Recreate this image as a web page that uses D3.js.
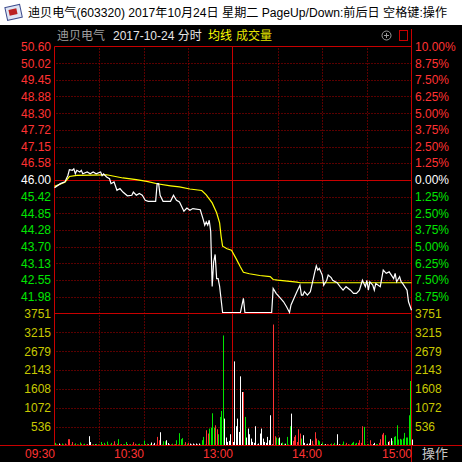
<!DOCTYPE html>
<meta charset="utf-8">
<title>迪贝电气 分时</title>
<style>
body { margin: 0; background: #000; }
svg { display: block; }
text { font: 12px "Liberation Sans", "Noto Sans CJK SC", sans-serif; }
</style>
<svg width="462" height="462"></svg>
<script src="https://cdn.jsdelivr.net/npm/d3@7/dist/d3.min.js"></script>
<script>

var prevClose = 46.00;

var priceLabels = ["50.60", "50.02", "49.45", "48.88", "48.30", "47.72", "47.15", "46.58", "46.00",
                   "45.42", "44.85", "44.28", "43.70", "43.13", "42.55", "41.98"];
var pctLabels = ["10.00%", "8.75%", "7.50%", "6.25%", "5.00%", "3.75%", "2.50%", "1.25%", "0.00%",
                 "1.25%", "2.50%", "3.75%", "5.00%", "6.25%", "7.50%", "8.75%"];
var volTicks = [3751, 3215, 2679, 2143, 1608, 1072, 536];
var timeLabels = ["09:30", "10:30", "13:00", "14:00", "15:00"];
var timeIdx = [0, 60, 120, 180, 240];

// minute index (0 = 09:30, 120 = 11:30/13:00, 240 = 15:00) and price
var priceIdx = [0, 4, 7, 9, 10, 12, 13, 14, 15, 17, 18, 19, 22, 24, 26, 28, 31, 32, 33, 35, 37, 38, 40, 42, 44,
  46, 49, 52, 53, 55, 57, 59, 61, 63, 68, 69, 70, 71, 73, 78, 80, 82, 84, 87, 89, 91, 93, 98, 100, 101, 102,
  103, 104, 105, 106, 107, 108, 109, 110, 111, 113, 125, 127, 128, 146, 147, 149, 152, 154, 156, 158, 159,
  161, 163, 165, 166, 167, 168, 170, 172, 173, 174, 175, 176, 177, 178, 180, 181, 183, 184, 186, 187, 190,
  192, 194, 196, 199, 201, 203, 205, 207, 209, 210, 211, 212, 214, 215, 216, 219, 221, 223, 225, 228, 229,
  230, 232, 233, 234, 237, 238, 240];
var price = [45.70, 45.84, 45.90, 46.12, 46.32, 46.30, 46.35, 46.18, 46.30, 46.24, 46.30, 46.18, 46.24, 46.18,
  46.24, 46.18, 46.24, 46.12, 46.18, 46.07, 46.01, 45.84, 45.90, 45.61, 45.67, 45.55, 45.42, 45.44, 45.55,
  45.44, 45.50, 45.44, 45.27, 45.23, 45.23, 45.84, 45.84, 45.44, 45.23, 45.23, 45.44, 45.27, 45.21, 44.89,
  45.00, 44.92, 44.98, 44.94, 44.60, 44.41, 44.52, 44.41, 44.58, 44.20, 42.30, 43.15, 43.40, 42.57, 42.57,
  42.30, 41.40, 41.40, 41.89, 41.40, 41.40, 42.23, 42.06, 41.89, 41.77, 41.60, 41.40, 41.66, 41.89, 42.12,
  42.34, 42.00, 42.00, 42.12, 42.00, 42.12, 42.34, 42.57, 42.80, 43.01, 42.86, 42.92, 42.69, 42.34, 42.51,
  42.69, 42.60, 42.51, 42.43, 42.29, 42.17, 42.29, 42.17, 42.06, 42.06, 42.17, 42.51, 42.29, 42.51, 42.17,
  42.46, 42.34, 42.17, 42.40, 42.29, 42.86, 42.75, 42.80, 42.57, 42.75, 42.46, 42.63, 42.46, 42.40, 42.17,
  41.77, 41.48];

var avgIdx = [0, 7, 10, 15, 35, 46, 55, 62, 69, 78, 84, 91, 99, 102, 106, 109, 111, 112, 113, 116, 119, 122,
  125, 127, 131, 138, 145, 147, 150, 163, 165, 240];
var avgPrice = [45.78, 45.92, 46.12, 46.16, 46.18, 46.07, 46.01, 45.95, 45.87, 45.80, 45.76, 45.69, 45.64,
  45.49, 45.21, 44.87, 44.52, 44.06, 43.72, 43.63, 43.58, 43.30, 43.00, 42.82, 42.77, 42.71, 42.67, 42.57,
  42.55, 42.48, 42.46, 42.46];

// volume per minute, index 0..240
var volume = [
  75, 30, 30, 56, 30, 56, 30, 56, 30, 179,
  179, 30, 100, 30, 60, 30, 30, 85, 50, 30,
  50, 30, 30, 264, 100, 30, 40, 30, 45, 30,
  30, 100, 40, 75, 30, 110, 30, 30, 75, 30,
  120, 30, 50, 180, 30, 40, 30, 40, 100, 30,
  30, 40, 30, 95, 50, 30, 40, 50, 30, 30,
  140, 40, 50, 30, 45, 85, 30, 75, 30, 245,
  150, 377, 30, 120, 120, 150, 70, 30, 30, 50,
  30, 40, 150, 30, 350, 180, 210, 30, 95, 50,
  75, 56, 30, 56, 30, 56, 30, 56, 30, 150,
  245, 30, 434, 340, 481, 509, 916, 509, 575, 462,
  320, 812, 982, 3127, 765, 226, 103, 131, 320, 60,
  100, 2390, 547, 765, 386, 1965, 1520, 1520, 812, 226,
  481, 320, 197, 103, 75, 547, 30, 56, 340, 481,
  197, 103, 75, 245, 150, 859, 30, 3438, 264, 226,
  197, 226, 60, 85, 50, 50, 245, 30, 547, 906,
  131, 245, 292, 100, 462, 340, 197, 292, 75, 30,
  50, 56, 179, 131, 30, 377, 197, 150, 122, 40,
  85, 30, 40, 37, 30, 37, 56, 40, 75, 30,
  320, 37, 30, 40, 112, 30, 75, 40, 30, 40,
  75, 103, 50, 75, 75, 150, 75, 547, 529, 30,
  40, 40, 150, 30, 40, 75, 40, 40, 75, 179,
  311, 358, 292, 30, 103, 131, 207, 131, 245, 264,
  575, 170, 189, 170, 197, 358, 226, 226, 859, 1833,
  170];
// 1 = up (red), -1 = down (green), 0 = unchanged (white)
var volDir = [
  -1, -1, 1, 0, 1, -1, -1, 1, 1, 1,
  1, -1, 1, 1, -1, 1, -1, -1, 1, -1,
  -1, 1, 0, 0, 0, 1, -1, 0, -1, 1,
  -1, -1, 1, -1, 1, -1, -1, 1, -1, 1,
  1, -1, 1, -1, 1, 1, -1, -1, -1, 0,
  1, -1, 1, 1, 1, -1, -1, -1, 1, -1,
  -1, 1, -1, 0, -1, 0, 0, 0, 1, 1,
  1, 0, -1, -1, -1, 0, 0, 0, 1, -1,
  1, 1, -1, 1, -1, -1, -1, -1, 1, -1,
  1, 0, 0, 0, 0, 0, 0, 0, -1, -1,
  -1, -1, 1, 1, -1, -1, -1, -1, 1, 1,
  -1, -1, -1, -1, 0, 0, 0, 0, 0, 0,
  0, 0, 0, 0, 0, 0, 0, 1, -1, 0,
  0, 0, 0, 0, 0, 0, 0, 0, 0, 0,
  0, 0, 0, 0, 0, 0, 0, 1, 1, -1,
  -1, 0, 0, -1, -1, 0, -1, -1, -1, 0,
  1, 1, 1, 1, 1, 1, -1, 0, 0, 0,
  0, 0, 0, 1, 1, 1, 1, -1, -1, 0,
  -1, -1, 0, 1, 1, 1, -1, 1, -1, -1,
  0, 0, -1, -1, -1, -1, 1, 1, -1, -1,
  -1, -1, -1, -1, 1, 1, 1, 1, -1, -1,
  1, -1, 1, 1, 0, 0, -1, -1, 1, 1,
  1, 1, -1, -1, 0, 1, 0, -1, -1, -1,
  -1, -1, -1, -1, -1, -1, -1, -1, -1, -1,
  0];

var red = "#ff3232", green = "#00e600", frameRed = "#c80000", gridRed = "#b40000",
    volYellow = "#c8c800";

var svg = d3.select("svg"),
    width = +svg.attr("width"),
    height = +svg.attr("height");

var plotLeft = 54.5, plotRight = 411.5, plotTop = 46.5, plotMid = 313.5, plotBottom = 445.5;

var x = d3.scaleLinear().domain([0, 240]).range([plotLeft, plotRight]);
var y = d3.scaleLinear().domain([prevClose * 0.9, prevClose * 1.1]).range([plotMid, plotTop]);
var yv = d3.scaleLinear().domain([0, 3751]).range([plotBottom, plotMid]);

svg.append("rect").attr("width", width).attr("height", height).attr("fill", "#000");

// title bar
svg.append("rect").attr("width", width).attr("height", 25).attr("fill", "#fff");
var icon = svg.append("g").attr("transform", "translate(5,4)");
icon.append("rect").attr("x", 1).attr("y", 2).attr("width", 15).attr("height", 13)
    .attr("fill", "#dfe6f5").attr("stroke", "#3b4a8c").attr("transform", "rotate(-12 8 8)");
icon.append("rect").attr("x", 4).attr("y", 5).attr("width", 8).attr("height", 6)
    .attr("fill", "#b22").attr("transform", "rotate(-12 8 8)");
svg.append("text").attr("x", 28).attr("y", 17).attr("fill", "#000")
    .attr("textLength", 419).attr("lengthAdjust", "spacingAndGlyphs")
    .text("迪贝电气(603320) 2017年10月24日 星期二 PageUp/Down:前后日 空格键:操作");

// header
var hdr = svg.append("text").attr("x", 57).attr("y", 40);
hdr.append("tspan").attr("fill", "#a0a0a0").text("迪贝电气");
hdr.append("tspan").attr("x", 113).attr("fill", "#e6e6e6").text("2017-10-24 分时");
hdr.append("tspan").attr("x", 208).attr("fill", "#ffff00").text("均线");
hdr.append("tspan").attr("x", 236).attr("fill", "#e6e600").text("成交量");

svg.append("circle").attr("cx", 386.5).attr("cy", 35.5).attr("r", 4.5)
    .attr("fill", "none").attr("stroke", "#9a9a9a");
svg.append("path").attr("d", "M384,35.5H389M386.5,33V38").attr("stroke", "#9a9a9a");
svg.append("rect").attr("x", 399.5).attr("y", 30.5).attr("width", 8).attr("height", 10)
    .attr("fill", "none").attr("stroke", frameRed);

// grid
var grid = svg.append("g").attr("stroke", gridRed).attr("stroke-dasharray", "1,2");
grid.selectAll(".hp").data(priceLabels.slice(1).filter(function(d) { return +d !== prevClose; }))
  .enter().append("line")
    .attr("x1", plotLeft + 2).attr("x2", plotRight)
    .attr("y1", function(d) { return Math.round(y(+d)) + 0.5; })
    .attr("y2", function(d) { return Math.round(y(+d)) + 0.5; });
grid.selectAll(".hv").data(volTicks.slice(1)).enter().append("line")
    .attr("x1", plotLeft + 2).attr("x2", plotRight)
    .attr("y1", function(d) { return Math.round(yv(d)) + 0.5; })
    .attr("y2", function(d) { return Math.round(yv(d)) + 0.5; });
grid.selectAll(".vx").data([30, 60, 90, 150, 180, 210]).enter().append("line")
    .attr("x1", function(d) { return Math.round(x(d)) + 0.5; })
    .attr("x2", function(d) { return Math.round(x(d)) + 0.5; })
    .attr("y1", plotTop + 2).attr("y2", plotBottom);

// volume bars
svg.append("g").selectAll("rect").data(volume).enter().append("rect")
    .attr("x", function(d, i) { return Math.round(x(i)); })
    .attr("width", 1)
    .attr("y", function(d) { return yv(d); })
    .attr("height", function(d) { return plotBottom - yv(d); })
    .attr("fill", function(d, i) { return volDir[i] > 0 ? red : volDir[i] < 0 ? green : "#fff"; });

// frame
var frame = svg.append("g").attr("stroke", frameRed).attr("fill", "none");
frame.append("path").attr("d",
  "M" + plotLeft + "," + plotBottom + "V" + plotTop + "H" + plotRight +
  "M" + plotLeft + "," + (Math.round(y(prevClose)) + 0.5) + "H" + plotRight +
  "M" + plotLeft + "," + plotMid + "H" + plotRight +
  "M" + (Math.round(x(120)) - 0.5) + "," + plotTop + "V" + plotBottom +
  "M0," + plotBottom + "H" + width +
  "M" + plotRight + ",29V" + height);

// average and price lines
var line = d3.line()
    .x(function(d) { return x(d[0]); })
    .y(function(d) { return y(d[1]); });

svg.append("path")
    .datum(avgIdx.map(function(d, i) { return [d, avgPrice[i]]; }))
    .attr("fill", "none").attr("stroke", "#ffff00").attr("stroke-width", 1.2)
    .attr("d", line);

svg.append("path")
    .datum(priceIdx.map(function(d, i) { return [d, price[i]]; }))
    .attr("fill", "none").attr("stroke", "#fff").attr("stroke-width", 1.2)
    .attr("transform", "translate(0,-1)")
    .attr("d", line);

// left and right price labels
function labelColor(d) {
  return +d > prevClose ? red : +d < prevClose ? green : "#fff";
}

svg.append("g").selectAll("text").data(priceLabels).enter().append("text")
    .attr("x", 51).attr("y", function(d) { return y(+d); }).attr("dy", "0.36em")
    .attr("text-anchor", "end")
    .attr("fill", labelColor)
    .text(function(d) { return d; });

svg.append("g").selectAll("text").data(pctLabels).enter().append("text")
    .attr("x", 415).attr("y", function(d, i) { return y(+priceLabels[i]); }).attr("dy", "0.36em")
    .attr("fill", function(d, i) { return labelColor(priceLabels[i]); })
    .text(function(d) { return d; });

// volume labels
svg.append("g").selectAll("text").data(volTicks).enter().append("text")
    .attr("x", 51).attr("y", function(d) { return yv(d); }).attr("dy", "0.36em")
    .attr("text-anchor", "end").attr("fill", volYellow)
    .text(function(d) { return d; });
svg.append("g").selectAll("text").data(volTicks).enter().append("text")
    .attr("x", 415).attr("y", function(d) { return yv(d); }).attr("dy", "0.36em")
    .attr("fill", volYellow)
    .text(function(d) { return d; });

// time labels
svg.append("g").selectAll("text").data(timeLabels).enter().append("text")
    .attr("x", function(d, i) { return Math.round(x(timeIdx[i])); })
    .attr("y", 458)
    .attr("text-anchor", "end").attr("fill", red)
    .text(function(d) { return d; });

svg.append("text").attr("x", 422).attr("y", 458).attr("fill", "#c8c8c8")
    .style("font-size", "13px").text("操作");

</script>
